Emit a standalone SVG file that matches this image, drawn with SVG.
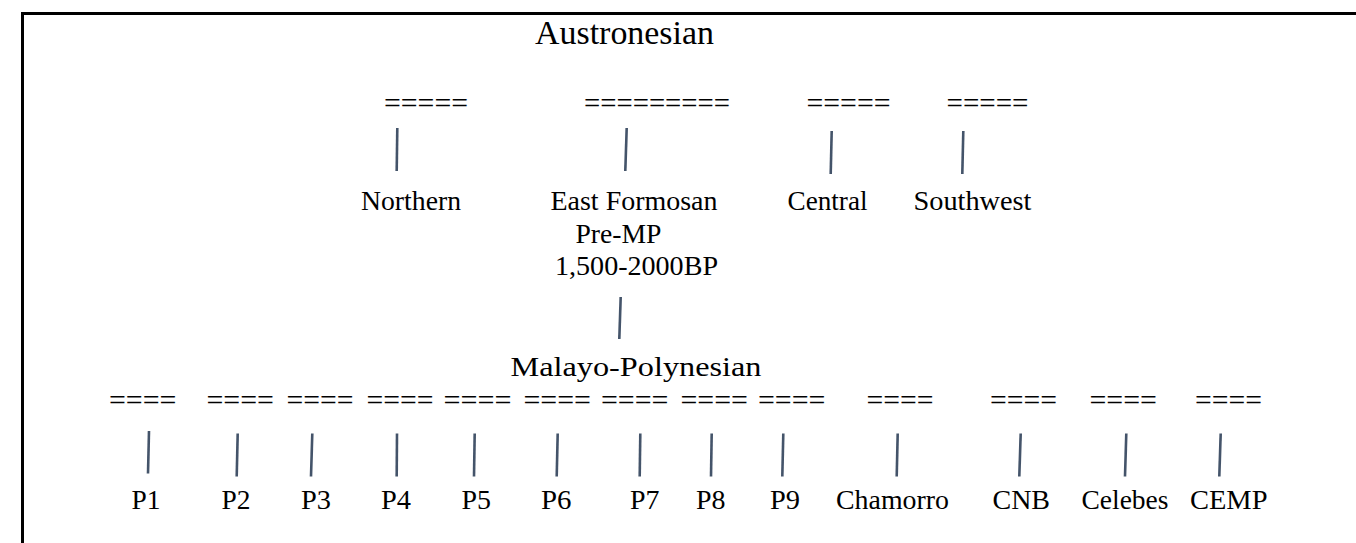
<svg xmlns="http://www.w3.org/2000/svg" width="1356" height="543" viewBox="0 0 1356 543">
<style>
.t{font-family:"Liberation Serif","Times New Roman",serif;font-size:28px;fill:#000}
.eq{font-family:"Liberation Serif","Times New Roman",serif;font-size:30px;fill:#000}
.c{stroke:#44546A;stroke-width:2.6;fill:none}
</style>
<rect width="1356" height="543" fill="#fff"/>
<path d="M22.5 543 V13.5 H1356" stroke="#000" stroke-width="3" fill="none"/>
<g id="austronesian"><text class="t" x="535" y="44" style="font-size:34px" textLength="179" lengthAdjust="spacingAndGlyphs">Austronesian</text></g>
<g id="northern"><text class="eq" x="384" y="113" textLength="84" lengthAdjust="spacingAndGlyphs">=====</text><text class="t" x="361" y="210" textLength="100" lengthAdjust="spacingAndGlyphs">Northern</text></g>
<g id="east-formosan"><text class="eq" x="584" y="113" textLength="146" lengthAdjust="spacingAndGlyphs">=========</text><text class="t" x="550.5" y="210" textLength="167" lengthAdjust="spacingAndGlyphs">East Formosan</text><text class="t" x="575.5" y="243" textLength="86" lengthAdjust="spacingAndGlyphs">Pre-MP</text><text class="t" x="555" y="275" textLength="163" lengthAdjust="spacingAndGlyphs">1,500-2000BP</text></g>
<g id="central"><text class="eq" x="806.5" y="113" textLength="84" lengthAdjust="spacingAndGlyphs">=====</text><text class="t" x="787.5" y="210" textLength="80" lengthAdjust="spacingAndGlyphs">Central</text></g>
<g id="southwest"><text class="eq" x="946.5" y="113" textLength="82" lengthAdjust="spacingAndGlyphs">=====</text><text class="t" x="913.5" y="210" textLength="118" lengthAdjust="spacingAndGlyphs">Southwest</text></g>
<g id="malayo-polynesian"><text class="t" x="510.5" y="376" textLength="251" lengthAdjust="spacingAndGlyphs">Malayo-Polynesian</text></g>
<g id="p1"><text class="eq" x="109" y="409.5" textLength="67.5" lengthAdjust="spacingAndGlyphs">====</text><text class="t" x="131.5" y="509" textLength="29" lengthAdjust="spacingAndGlyphs">P1</text></g>
<g id="p2"><text class="eq" x="206.5" y="409.5" textLength="67.5" lengthAdjust="spacingAndGlyphs">====</text><text class="t" x="221.5" y="509" textLength="29" lengthAdjust="spacingAndGlyphs">P2</text></g>
<g id="p3"><text class="eq" x="286.5" y="409.5" textLength="67" lengthAdjust="spacingAndGlyphs">====</text><text class="t" x="301" y="509" textLength="30" lengthAdjust="spacingAndGlyphs">P3</text></g>
<g id="p4"><text class="eq" x="366.5" y="409.5" textLength="67" lengthAdjust="spacingAndGlyphs">====</text><text class="t" x="381" y="509" textLength="30" lengthAdjust="spacingAndGlyphs">P4</text></g>
<g id="p5"><text class="eq" x="443.5" y="409.5" textLength="68" lengthAdjust="spacingAndGlyphs">====</text><text class="t" x="461.5" y="509" textLength="29.5" lengthAdjust="spacingAndGlyphs">P5</text></g>
<g id="p6"><text class="eq" x="523.5" y="409.5" textLength="67.5" lengthAdjust="spacingAndGlyphs">====</text><text class="t" x="541" y="509" textLength="30.5" lengthAdjust="spacingAndGlyphs">P6</text></g>
<g id="p7"><text class="eq" x="601" y="409.5" textLength="67.5" lengthAdjust="spacingAndGlyphs">====</text><text class="t" x="630" y="509" textLength="29.5" lengthAdjust="spacingAndGlyphs">P7</text></g>
<g id="p8"><text class="eq" x="680.5" y="409.5" textLength="67.5" lengthAdjust="spacingAndGlyphs">====</text><text class="t" x="696" y="509" textLength="29.5" lengthAdjust="spacingAndGlyphs">P8</text></g>
<g id="p9"><text class="eq" x="758" y="409.5" textLength="67.5" lengthAdjust="spacingAndGlyphs">====</text><text class="t" x="770" y="509" textLength="30" lengthAdjust="spacingAndGlyphs">P9</text></g>
<g id="chamorro"><text class="eq" x="866.5" y="409.5" textLength="67" lengthAdjust="spacingAndGlyphs">====</text><text class="t" x="836" y="509" textLength="113" lengthAdjust="spacingAndGlyphs">Chamorro</text></g>
<g id="cnb"><text class="eq" x="990" y="409.5" textLength="67" lengthAdjust="spacingAndGlyphs">====</text><text class="t" x="992.5" y="509" textLength="57.5" lengthAdjust="spacingAndGlyphs">CNB</text></g>
<g id="celebes"><text class="eq" x="1089.5" y="409.5" textLength="67.5" lengthAdjust="spacingAndGlyphs">====</text><text class="t" x="1081.5" y="509" textLength="87" lengthAdjust="spacingAndGlyphs">Celebes</text></g>
<g id="cemp"><text class="eq" x="1195" y="409.5" textLength="67" lengthAdjust="spacingAndGlyphs">====</text><text class="t" x="1190" y="509" textLength="77.5" lengthAdjust="spacingAndGlyphs">CEMP</text></g>
<g id="connectors">
<line class="c" x1="397.3" y1="128" x2="396.7" y2="171"/>
<line class="c" x1="626.7" y1="128" x2="625.3" y2="171"/>
<line class="c" x1="831.7" y1="131" x2="830.7" y2="174"/>
<line class="c" x1="963.3" y1="131" x2="962.3" y2="174"/>
<line class="c" x1="620.7" y1="297" x2="619.3" y2="339"/>
<line class="c" x1="149" y1="431" x2="148" y2="473.5"/>
<line class="c" x1="237.7" y1="433.5" x2="236.7" y2="476.5"/>
<line class="c" x1="312.3" y1="433.5" x2="311" y2="476.5"/>
<line class="c" x1="397" y1="433.5" x2="396.7" y2="476.5"/>
<line class="c" x1="474.7" y1="433.5" x2="474" y2="476.5"/>
<line class="c" x1="557.7" y1="433.5" x2="556.7" y2="476.5"/>
<line class="c" x1="640.3" y1="433.5" x2="639.7" y2="476.5"/>
<line class="c" x1="711.7" y1="433.5" x2="711" y2="476.5"/>
<line class="c" x1="783.3" y1="433.5" x2="782.3" y2="476.5"/>
<line class="c" x1="897.7" y1="433.5" x2="896.7" y2="476.5"/>
<line class="c" x1="1020.7" y1="433.5" x2="1019.3" y2="476.5"/>
<line class="c" x1="1126.3" y1="433.5" x2="1125" y2="476.5"/>
<line class="c" x1="1220.7" y1="433.5" x2="1219.3" y2="476.5"/>
</g>
</svg>
